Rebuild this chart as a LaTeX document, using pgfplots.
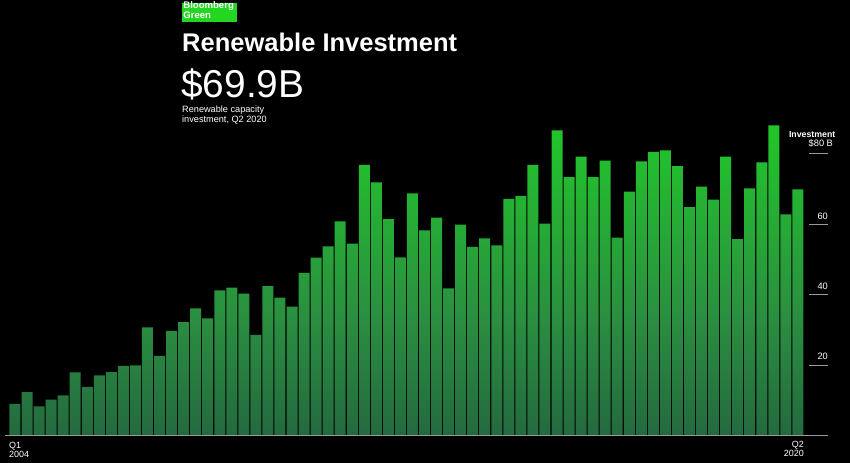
\documentclass[border=0pt]{standalone}
\usepackage{fontspec}
\setmainfont{Liberation Sans}
\usepackage{pgfplots}
\pgfplotsset{compat=1.18}
\usepackage{pgfplotstable}
\usetikzlibrary{backgrounds}

\definecolor{bbgreen}{HTML}{22D622}
\definecolor{axisgrey}{HTML}{9A9A9A}
\definecolor{g0}{HTML}{1C3636}
\definecolor{g1}{HTML}{1F4E3E}
\definecolor{g2}{HTML}{2A8F40}
\definecolor{g3}{HTML}{24BA30}
\definecolor{g4}{HTML}{1ED81E}
\definecolor{g5}{HTML}{1AF01A}

% colour by absolute height: 0 -> 90 (bn $)
\pgfdeclareverticalshading{barfade}{100bp}{%
  color(0bp)=(g0); color(11bp)=(g1); color(44bp)=(g2);
  color(67bp)=(g3); color(89bp)=(g4); color(100bp)=(g5)}

% renewable capacity investment per quarter, Q1 2004 .. Q2 2020
\pgfplotstableread{
q  inv
1  9.0
2  12.3
3  8.3
4  10.2
5  11.4
6  17.9
7  13.8
8  17.1
9  18.0
10 19.8
11 19.9
12 30.7
13 22.6
14 29.7
15 32.2
16 36.1
17 33.3
18 41.2
19 42.0
20 40.3
21 28.6
22 42.4
23 39.2
24 36.6
25 46.2
26 50.5
27 53.7
28 60.8
29 54.5
30 76.9
31 71.9
32 61.5
33 50.6
34 68.8
35 58.3
36 61.9
37 41.8
38 59.9
39 53.6
40 56.0
41 54.0
42 67.2
43 68.1
44 76.9
45 60.2
46 86.7
47 73.4
48 79.2
49 73.4
50 78.1
51 56.2
52 69.3
53 77.9
54 80.6
55 81.0
56 76.5
57 64.9
58 70.7
59 67.0
60 79.2
61 55.8
62 70.2
63 77.6
64 88.1
65 62.8
66 69.9
}\invest

\begin{document}
\begin{tikzpicture}[x=1bp,y=1bp]
\begin{axis}[
  scale only axis,
  width=823bp, height=316.8bp,
  xmin=0.17, xmax=68.5, ymin=0, ymax=90,
  hide axis,
  clip=false,
  ybar,
  bar width=11bp,
]
\coordinate (O) at (axis cs:0.17,0);
\addplot[fill=white, draw=none] table[x=q, y=inv] {\invest};
\begin{scope}[blend mode=multiply]
  \shade[shading=barfade] (axis cs:0.5,0) rectangle (axis cs:66.5,90);
\end{scope}
\draw[axisgrey, line width=1.3bp] (axis cs:0.17,0) -- (axis cs:68.5,0);
\draw[axisgrey, line width=1bp] (axis cs:66.9,20) -- (axis cs:68.5,20);
\draw[axisgrey, line width=1bp] (axis cs:66.9,40) -- (axis cs:68.5,40);
\draw[axisgrey, line width=1bp] (axis cs:66.9,60) -- (axis cs:68.5,60);
\draw[axisgrey, line width=1bp] (axis cs:66.9,80) -- (axis cs:68.5,80);
\end{axis}

% page frame: (P) is the lower left corner of the 850 x 463 picture
\coordinate (P) at ([shift={(-5,-27.5)}]O);
\begin{scope}[on background layer]
  \fill[black] (P) rectangle ++(850,463);
\end{scope}

\begin{scope}[shift={(P)}]
% header (multi-line nodes: base = baseline of the last line)
\fill[bbgreen] (182.3,441.3) rectangle (236.7,460.3);
\node[anchor=base west, inner sep=0, text=white,
  font=\bfseries\fontsize{9.6}{7.7}\selectfont, align=left]
  at (183.2,444.7) {Bloomberg\\Green};
\node[anchor=base west, inner sep=0, text=white,
  font=\bfseries\fontsize{25.6}{26}\selectfont] at (182,411.3) {Renewable Investment};
\node[anchor=base west, inner sep=0, text=white,
  font=\fontsize{39}{40}\selectfont] at (181,365.5) {\$69.9B};
\node[anchor=base west, inner sep=0, text=white, align=left,
  font=\fontsize{9.2}{10.2}\selectfont] at (182,340.8) {Renewable capacity\\investment, Q2 2020};

% right-hand scale labels
\node[anchor=base east, inner sep=0, text=white, font=\fontsize{9.3}{10}\selectfont]
  at (828,103) {20};
\node[anchor=base east, inner sep=0, text=white, font=\fontsize{9.3}{10}\selectfont]
  at (828,173.3) {40};
\node[anchor=base east, inner sep=0, text=white, font=\fontsize{9.3}{10}\selectfont]
  at (828,243) {60};
\node[anchor=base west, inner sep=0, text=white, font=\fontsize{9.3}{10}\selectfont]
  at (808.5,316.7) {\$80 B};
\node[anchor=base east, inner sep=0, text=white, font=\bfseries\fontsize{8.8}{10}\selectfont]
  at (835.5,325.3) {Investment};

% period labels
\node[anchor=base west, inner sep=0, text=white, align=left,
  font=\fontsize{9}{9.4}\selectfont] at (9,5.5) {Q1\\2004};
\node[anchor=base east, inner sep=0, text=white, align=right,
  font=\fontsize{9}{9.4}\selectfont] at (804,6.3) {Q2\\2020};
\end{scope}

\pgfresetboundingbox
\path[use as bounding box] (P) rectangle ++(850,463);
\end{tikzpicture}
\end{document}
